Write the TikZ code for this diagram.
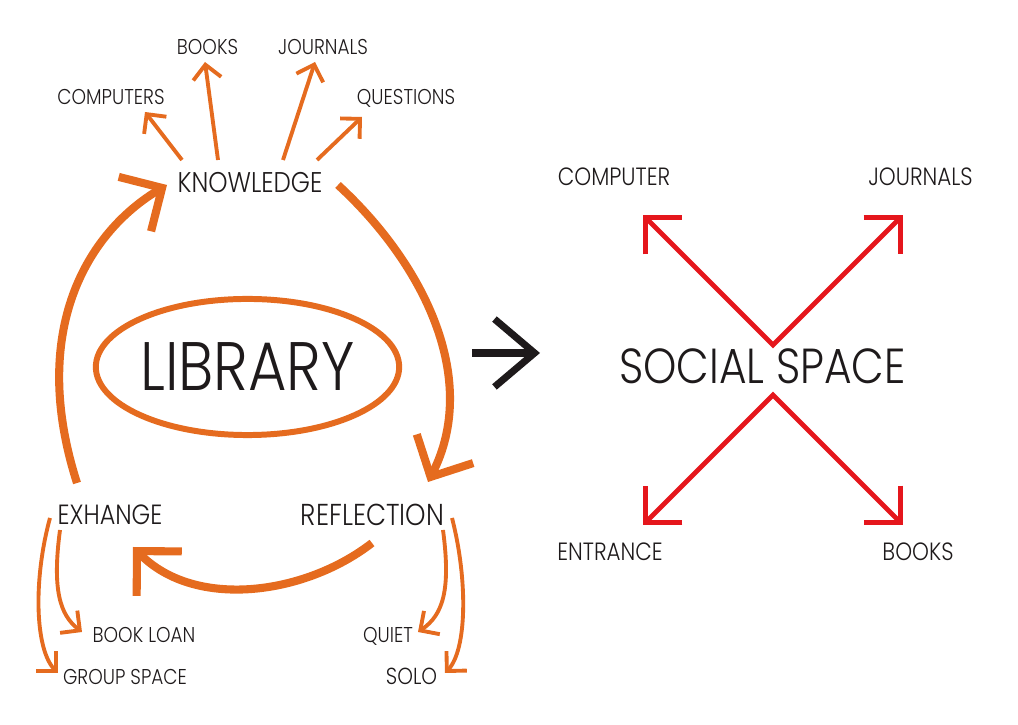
\documentclass[tikz,border=0pt]{standalone}
\usepackage{fontspec}
\setmainfont{Poppins}[UprightFont={* Light}, FakeStretch=0.86]
\usepackage{tikz}
\usetikzlibrary{arrows.meta,calc,shapes.geometric}

\begin{document}
\begin{tikzpicture}[x=0.01cm, y=-0.01cm,
  lbl/.style={inner sep=0pt, text depth=0pt, text=ink, font=\fontsize{6.1}{7}\selectfont},
  side/.style={lbl, font=\fontsize{7.1}{8}\selectfont},
  head/.style={lbl, font=\fontsize{8.1}{9}\selectfont},
  bigarr/.style={draw=orng, line width=2.3pt, -{Straight Barb[length=9pt,width=18pt]}},
  twig/.style={draw=orng, line width=1.1pt, -{Straight Barb[length=4pt,width=8pt]}},
  xarr/.style={draw=xred, line width=1.4pt, line join=miter,
    {Straight Barb[length=7.4pt,width=14.8pt]}-{Straight Barb[length=7.4pt,width=14.8pt]}}]

\definecolor{orng}{HTML}{E56B1F}
\definecolor{xred}{HTML}{E5161C}
\definecolor{ink}{HTML}{1E1A1B}

\useasboundingbox (0,0) rectangle (1018,725);

\node[head] (know) at (250,182.5) {KNOWLEDGE};
\node[lbl] (books) at (207.5,47) {BOOKS};
\node[lbl] (jour) at (323,47) {JOURNALS};
\node[lbl] (comps) at (111,97) {COMPUTERS};
\node[lbl] (quest) at (406,97) {QUESTIONS};

\node[ellipse, draw=orng, line width=1.7pt, minimum width=82.2pt, minimum height=38.7pt,
  inner sep=0pt, text depth=0pt, text=ink, font=\fontsize{19.5}{22}\selectfont] (lib) at (247.5,367) {LIBRARY};

\node[side, font=\fontsize{7.9}{9}\selectfont] (exh) at (110,515) {EXHANGE};
\node[side, font=\fontsize{8.6}{9}\selectfont] (refl) at (372.5,515) {REFLECTION};
\node[lbl] (loan) at (144,635) {BOOK LOAN};
\node[lbl] (group) at (125,676.5) {GROUP SPACE};
\node[lbl] (quiet) at (388,635) {QUIET};
\node[lbl, font=\fontsize{6.6}{7}\selectfont] (solo) at (411.5,676.5) {SOLO};

\node[lbl, font=\fontsize{14}{16}\selectfont] (soc) at (762.5,366.5) {SOCIAL SPACE};
\node[side] (comp) at (614,176.5) {COMPUTER};
\node[side] (jour2) at (920.5,176.5) {JOURNALS};
\node[side] (entr) at (610,552) {ENTRANCE};
\node[side] (books2) at (918,552) {BOOKS};

\draw[twig] ($(know)+(-68,-22.5)$) -- ($(comps)+(34,15)$);
\draw[twig] ($(know)+(-32,-22.5)$) -- ($(books)+(-2.5,15)$);
\draw[twig] ($(know)+(33,-22.5)$) -- ($(jour)+(-8,15)$);
\draw[twig] ($(know)+(67,-22.5)$) -- ($(quest)+(-44,20)$);

\draw[bigarr] ($(exh)+(-33,-32)$) .. controls ($(exh)+(-82,-185)$) and ($(know)+(-162,49.5)$) .. ($(know)+(-83,2.5)$);
\draw[bigarr] ($(know)+(88,2.5)$) .. controls ($(know)+(175,82.5)$) and ($(refl)+(107.5,-135)$) .. ($(refl)+(55.5,-33)$);
\draw[bigarr] ($(refl)+(-0.5,28)$) .. controls ($(refl)+(-67.5,80)$) and ($(exh)+(85,95)$) .. ($(exh)+(23,32)$);

\draw[twig] ($(exh)+(-50,15)$) .. controls ($(exh)+(-58,75)$) and ($(loan)+(-84,-20)$) .. ($(loan)+(-62,-3)$);
\draw[twig] ($(exh)+(-60,3)$) .. controls ($(exh)+(-77,65)$) and ($(group)+(-90,-26.5)$) .. ($(group)+(-67,-3.5)$);
\draw[twig] ($(refl)+(70.5,15)$) .. controls ($(refl)+(78.5,75)$) and ($(quiet)+(55,-20)$) .. ($(quiet)+(30,-3)$);
\draw[twig] ($(refl)+(79.5,3)$) .. controls ($(refl)+(95.5,65)$) and ($(solo)+(55.5,-26.5)$) .. ($(solo)+(33.5,-3.5)$);

\draw[draw=ink, line width=2pt, -{Straight Barb[length=11.4pt,width=19.3pt]}]
  ($(lib)+(224.5,-14)$) -- ($(soc)+(-222.5,-13.5)$);

\coordinate (vtop) at ($(soc)+(10.5,-21.5)$);
\coordinate (vbot) at ($(soc)+(10.5,28.5)$);
\draw[xarr] ($(comp)+(29,38.5)$) -- (vtop) -- ($(jour2)+(-17.5,38.5)$);
\draw[xarr] ($(entr)+(33,-27)$) -- (vbot) -- ($(books2)+(-15,-27)$);

\end{tikzpicture}
\end{document}
